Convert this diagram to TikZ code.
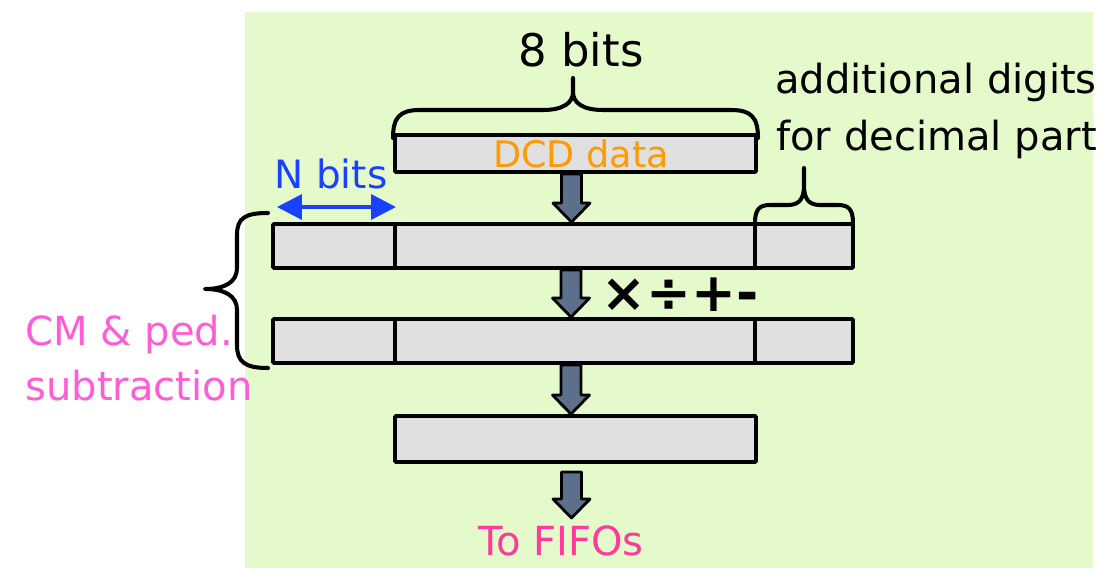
\documentclass[tikz,border=0pt]{standalone}
\usepackage{fontspec}
\setmainfont{DejaVu Sans}
\usetikzlibrary{calc,arrows.meta}
\definecolor{bggreen}{HTML}{E5FACA}
\definecolor{barfill}{HTML}{E0E0E0}
\definecolor{arrowfill}{HTML}{5C708C}
\definecolor{dcdorange}{HTML}{FF9A00}
\definecolor{nblue}{HTML}{1A41FF}
\definecolor{cmpink}{HTML}{FF5CD6}
\definecolor{fifopink}{HTML}{FF3A9A}
\tikzset{
  bar/.style={draw=black, fill=barfill, line width=2.2pt, rounded corners=0.6pt, inner sep=0pt},
  txt/.style={inner sep=0pt, font=\fontsize{22.8pt}{27pt}\selectfont},
  bigtxt/.style={inner sep=0pt, font=\fontsize{25.6pt}{30pt}\selectfont},
  optxt/.style={inner sep=0pt, font=\fontsize{30.5pt}{36pt}\selectfont\bfseries},
  bracestyle/.style={draw=black, line width=2.3pt, line join=round, line cap=round},
  blockarrow/.style={draw=black, line width=1.6pt, fill=arrowfill, line join=round,
    to path={let \p1=(\tikztostart), \p2=(\tikztotarget) in
      (\x1-0.2cm,\y1) -- (\x1-0.2cm,\y2+0.38cm) -- (\x1-0.37cm,\y2+0.38cm) -- (\x1,\y2)
      -- (\x1+0.37cm,\y2+0.38cm) -- (\x1+0.2cm,\y2+0.38cm) -- (\x1+0.2cm,\y1) -- cycle}}
}
\begin{document}
\begin{tikzpicture}[x=0.02cm, y=-0.02cm]
\useasboundingbox (0,0) rectangle (1107,568);
\fill[bggreen] (245,12) rectangle (1093,568);

% bars
\node[bar, minimum width=7.22cm, minimum height=0.74cm] (dcd) at (575.5,153.5) {};
\node[bar, minimum width=2.44cm, minimum height=0.88cm] (r1a) at (334,246) {};
\node[bar, minimum width=7.2cm, minimum height=0.88cm] (r1b) at (575,246) {};
\node[bar, minimum width=1.96cm, minimum height=0.88cm] (r1c) at (804,246) {};
\node[bar, minimum width=2.44cm, minimum height=0.88cm] (r2a) at (334,341) {};
\node[bar, minimum width=7.2cm, minimum height=0.88cm] (r2b) at (575,341) {};
\node[bar, minimum width=1.96cm, minimum height=0.88cm] (r2c) at (804,341) {};
\node[bar, minimum width=7.22cm, minimum height=0.92cm] (r3) at (575.5,439) {};

% texts
\node[bigtxt, anchor=base] (eight) at (581,67) {8 bits};
\node[txt, anchor=base, text=dcdorange, font=\fontsize{20.8pt}{25pt}\selectfont] (dcdt) at (581,167) {DCD data};
\node[txt, anchor=base, text=nblue, font=\fontsize{22.2pt}{26pt}\selectfont] (nbits) at (331,188) {N bits};
\node[txt, anchor=base west] (add1) at (775,93) {additional digits};
\node[txt, anchor=base west] (add2) at (776,150) {for decimal part};
\node[txt, anchor=base west, text=cmpink] (cm1) at (25,345) {CM \& ped.};
\node[txt, anchor=base west, text=cmpink] (cm2) at (25,400) {subtraction};
\node[txt, anchor=base, text=fifopink] (fifo) at (561,555) {To FIFOs};
\node[optxt, anchor=base] (ops) at (680,311) {×÷+-};

% N bits double arrow
\coordinate (nl) at (277,207);
\coordinate (nr) at (396,207);
\draw[nblue, line width=2.1pt, {Triangle[length=0.5cm,width=0.5cm]}-{Triangle[length=0.5cm,width=0.5cm]}] (nl) -- (nr);

% block arrows
\coordinate (f4) at (571,518);
\draw[blockarrow] ([xshift=-0.08cm]dcd.south) to ([xshift=-0.08cm]r1b.north);
\draw[blockarrow] ([xshift=-0.08cm]r1b.south) to ([xshift=-0.08cm]r2b.north);
\draw[blockarrow] ([xshift=-0.08cm]r2b.south) to ([xshift=-0.08cm]r3.north);
\draw[blockarrow] ([xshift=-0.08cm,yshift=-0.16cm]r3.south) to (f4);

% braces
\draw[bracestyle] (393,138) .. controls (393,117) and (400,110) .. (420,110) -- (543,110)
  .. controls (563,110) and (573,103) .. (573,92) -- (573,78) -- (573,92)
  .. controls (573,103) and (583,110) .. (603,110) -- (731,110)
  .. controls (751,110) and (758,117) .. (758,138);
\draw[bracestyle] (755,223) .. controls (755,210) and (759,205) .. (770,205) -- (788,205)
  .. controls (800,205) and (804,198) .. (804,185) -- (804,168) -- (804,185)
  .. controls (804,198) and (808,205) .. (820,205) -- (838,205)
  .. controls (849,205) and (853,210) .. (853,223);
\draw[bracestyle] (268,213) .. controls (245,213) and (237,218) .. (237,235) -- (237,268)
  .. controls (237,282) and (225,289) .. (205,289)
  .. controls (225,289) and (237,296) .. (237,310) -- (237,345)
  .. controls (237,362) and (245,368) .. (268,368);
\end{tikzpicture}
\end{document}
